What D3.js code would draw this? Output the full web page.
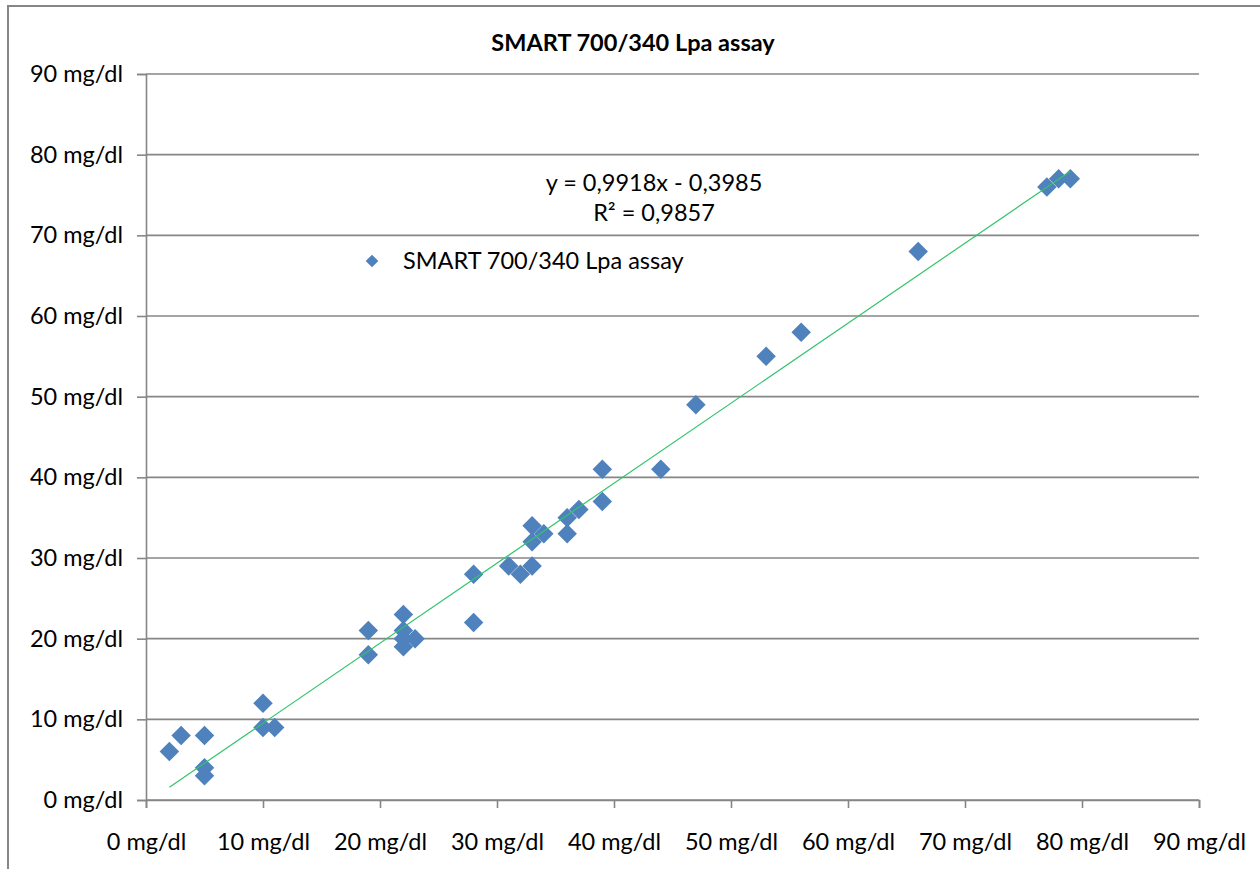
<!DOCTYPE html>
<html>
<head>
<meta charset="utf-8">
<script src="https://cdn.jsdelivr.net/npm/d3@7"></script>
<style>
  body { margin: 0; background: #fff; }
  text { font-family: Lato, "Open Sans", sans-serif; fill: #000; }
</style>
</head>
<body>
<svg id="chart" width="1260" height="869"></svg>
<script>
// measured pairs: x = reference method, y = SMART 700/340
var xValues = [2, 3, 5, 5, 5, 10, 10, 11, 19, 19, 22, 22, 22, 22, 23, 28, 28, 31, 32, 33, 33, 33, 34, 36, 36, 37, 39, 39, 44, 47, 53, 56, 66, 77, 78, 79];
var yValues = [6, 8, 8, 4, 3, 12, 9, 9, 21, 18, 23, 21, 20, 19, 20, 28, 22, 29, 28, 29, 34, 32, 33, 35, 33, 36, 41, 37, 41, 49, 55, 58, 68, 76, 77, 77];

var axisTicks = [0, 10, 20, 30, 40, 50, 60, 70, 80, 90];
var trendSlope = 0.9918;
var trendIntercept = -0.3985;
var chartTitle = "SMART 700/340 Lpa assay";
var seriesName = "SMART 700/340 Lpa assay";
var equationLines = ["y = 0,9918x - 0,3985", "R² = 0,9857"];

var svg = d3.select("#chart");

// outer chart frame (right/bottom edges fall outside the picture)
svg.append("rect")
    .attr("x", 8).attr("y", 6)
    .attr("width", 1300).attr("height", 900)
    .style("fill", "none")
    .style("stroke", "#868686")
    .style("stroke-width", 2);

var x = d3.scaleLinear().domain([0, 90]).range([146, 1199]);
var y = d3.scaleLinear().domain([0, 90]).range([800, 74]);

var tickLabel = function(d) { return d + " mg/dl"; };

// horizontal gridlines
svg.append("g")
    .selectAll("line")
    .data(axisTicks)
    .join("line")
    .attr("x1", x(0)).attr("x2", x(90))
    .attr("y1", function(d) { return y(d); })
    .attr("y2", function(d) { return y(d); })
    .style("stroke", "#868686")
    .style("stroke-width", 1.6);

// y axis
var yAxis = svg.append("g")
    .attr("transform", "translate(" + x(0) + ",0)")
    .call(d3.axisLeft(y).tickValues(axisTicks).tickSize(9).tickPadding(14).tickFormat(tickLabel));

// x axis
var xAxis = svg.append("g")
    .attr("transform", "translate(0," + y(0) + ")")
    .call(d3.axisBottom(x).tickValues(axisTicks).tickSize(8).tickPadding(25).tickFormat(tickLabel));

[yAxis, xAxis].forEach(function(g) {
    g.select(".domain").style("stroke", "#868686").style("stroke-width", 1.6);
    g.selectAll(".tick line").style("stroke", "#868686").style("stroke-width", 1.6);
    g.selectAll(".tick text")
        .style("font-family", "Lato, sans-serif")
        .style("font-size", "23.5px")
        .style("fill", "#000");
});

// title
svg.append("text")
    .attr("x", 633).attr("y", 51)
    .attr("text-anchor", "middle")
    .style("font-size", "23.5px")
    .style("font-weight", "bold")
    .text(chartTitle);

// data points
var points = xValues.map(function(v, i) { return [v, yValues[i]]; });
var diamond = d3.symbol().type(d3.symbolSquare).size(190);

svg.append("g")
    .selectAll("path")
    .data(points)
    .join("path")
    .attr("d", diamond)
    .attr("transform", function(d) {
        return "translate(" + x(d[0]) + "," + y(d[1]) + ") rotate(45)";
    })
    .style("fill", "#4f81bd");

// linear trendline over the data range
var xMin = d3.min(xValues), xMax = d3.max(xValues);
var trendLine = d3.line()
    .x(function(d) { return x(d); })
    .y(function(d) { return y(trendSlope * d + trendIntercept); });

svg.append("path")
    .datum([xMin, xMax])
    .attr("d", trendLine)
    .style("fill", "none")
    .style("stroke", "#31c46b")
    .style("stroke-width", 1.2);

// equation label
svg.append("g")
    .selectAll("text")
    .data(equationLines)
    .join("text")
    .attr("x", 654)
    .attr("y", function(d, i) { return 191 + i * 30; })
    .attr("text-anchor", "middle")
    .style("font-size", "23.5px")
    .text(function(d) { return d; });

// legend
svg.append("path")
    .attr("d", d3.symbol().type(d3.symbolSquare).size(80))
    .attr("transform", "translate(372,261) rotate(45)")
    .style("fill", "#4f81bd");

svg.append("text")
    .attr("x", 403).attr("y", 269)
    .style("font-size", "23.5px")
    .text(seriesName);
</script>
</body>
</html>
